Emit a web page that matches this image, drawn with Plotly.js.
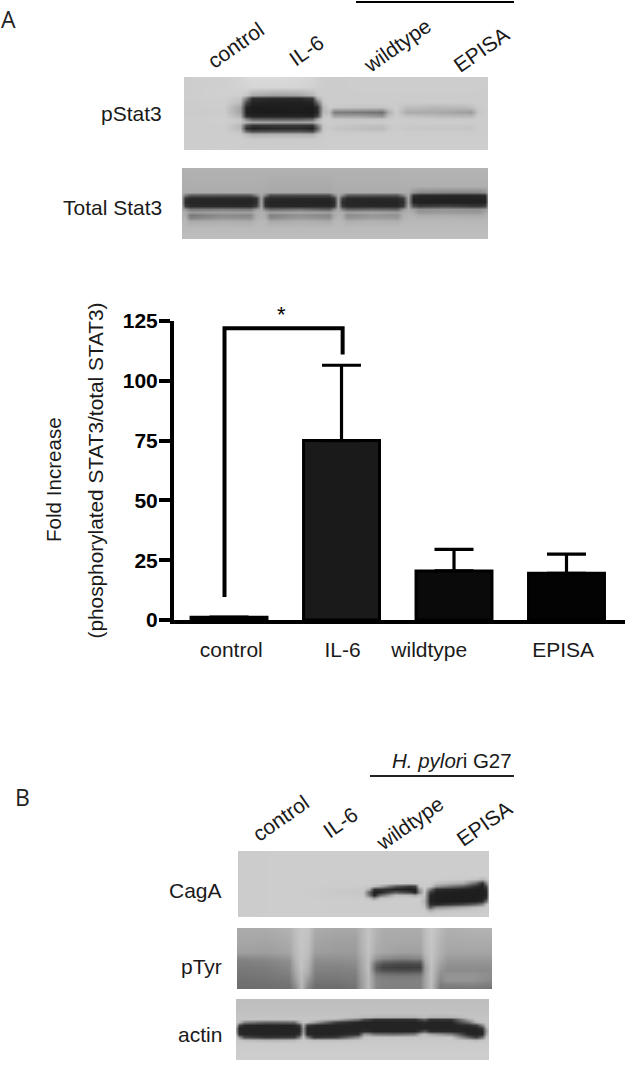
<!DOCTYPE html>
<html><head><meta charset="utf-8">
<script src="https://cdn.plot.ly/plotly-3.0.1.min.js"></script>
<style>html,body{margin:0;padding:0;background:#fff}#c{width:633px;height:1085px}</style>
</head><body><div id="c"></div>
<script>
// ---------- bar chart values ----------
const barNames = ['control','IL-6','wildtype','EPISA'];
const barSlots = [1,2,3,4];
const foldIncrease = [1.2,75,20.5,19.5];
const errorPlus = [0,31.5,9,8];
const barFill = ['#0a0a0a','#1a1a1a','#0a0a0a','#030303'];
const tickSlots = [1.02,2.01,2.78,3.97];
const yTicks = [0,25,50,75,100,125];
const bracketX = [0.96,0.96,2.01,2.01];
const bracketY = [9.6,122,122,111];

// ---------- blot densitometry (grey level) ----------
const pStatCols = [0,40,56,62,68,90,115,128,133,139,145,150,175,198,204,212,222,250,280,287,294,304];
const pStatRows = [0,10,18,21,25,30,35,39,42,45,48,51,54,57,62,73];
const pStatZ = [
[205,207,212,216,218,218,216,212,208,205,204,204,205,205,205,205,205,205,205,205,205,205],
[205,208,210,212,214,214,212,208,206,204,204,204,205,205,205,205,205,205,205,205,205,204],
[205,208,206,198,172,160,165,182,200,204,204,204,204,204,204,204,204,204,204,204,204,204],
[205,207,198,130,48,42,42,58,175,203,204,204,204,204,204,204,204,204,204,204,204,204],
[204,206,190,75,36,32,32,36,110,200,204,204,204,204,204,203,203,203,203,203,204,204],
[204,205,165,36,28,30,30,28,45,185,204,200,196,196,200,204,190,184,186,190,202,204],
[203,204,165,32,28,26,28,26,40,185,190,125,120,112,170,204,172,170,160,155,198,204],
[204,205,180,48,36,36,36,34,65,198,200,165,165,150,190,204,195,188,185,185,203,204],
[205,206,198,140,100,95,95,105,170,203,204,200,198,198,202,204,203,202,202,202,204,204],
[205,206,200,178,165,160,160,165,188,203,204,203,203,203,204,204,204,204,204,204,204,204],
[205,205,185,80,55,58,58,52,125,200,203,200,195,192,200,204,202,200,200,200,204,204],
[205,205,185,50,35,40,42,32,95,198,202,196,190,186,198,204,199,198,198,196,204,204],
[205,205,195,105,75,80,82,70,135,200,204,201,198,196,203,204,203,202,202,202,204,204],
[205,205,203,188,175,178,178,176,195,203,204,204,204,204,204,204,204,204,204,204,204,204],
[205,205,205,203,202,202,202,202,203,204,205,205,205,205,205,205,205,205,205,205,205,205],
[205,206,205,205,205,205,205,205,205,205,206,206,206,206,206,206,206,206,206,206,206,206]];

const totalCols = [0,3,8,40,68,74,79,83,88,118,147,152,156,160,165,190,215,221,226,231,237,265,296,303,306];
const totalRows = [0,18,24,27,30,34,38,41,44,47,50,53,60,71];
const totalZ = [
[176,177,178,178,178,178,178,178,178,178,178,178,178,178,178,178,178,180,180,180,180,180,180,180,180],
[174,174,174,174,174,174,174,172,170,170,170,174,174,174,174,174,174,175,175,175,175,175,175,175,175],
[172,172,172,172,172,172,172,170,168,168,168,172,172,172,172,172,172,172,172,150,140,135,135,145,172],
[165,120,90,85,85,130,170,130,75,75,75,130,170,140,90,85,85,130,170,55,42,40,40,48,160],
[150,55,42,40,40,50,165,55,42,40,40,58,165,65,42,40,42,60,165,36,34,34,34,36,150],
[150,44,38,36,36,46,165,42,36,36,34,44,165,46,38,36,36,46,160,36,32,32,32,36,150],
[160,60,44,42,42,65,168,52,40,40,40,55,168,58,42,40,40,60,170,80,60,70,55,70,165],
[168,150,120,125,120,155,172,125,105,115,95,140,172,130,100,105,100,150,172,160,145,150,145,155,172],
[175,172,155,160,160,175,175,172,160,165,160,172,175,172,160,165,160,172,176,170,150,155,150,165,176],
[178,172,120,140,135,172,178,170,130,145,135,170,178,172,140,150,145,175,180,178,172,172,170,176,180],
[180,178,135,150,145,176,180,176,140,155,145,176,180,176,150,160,155,178,182,182,178,180,178,180,182],
[182,182,170,175,172,182,184,182,170,175,172,182,184,182,175,178,176,184,184,184,184,184,184,184,184],
[186,186,186,186,186,186,186,186,186,186,186,186,186,186,186,186,186,187,187,187,187,187,187,187,187],
[190,190,190,190,190,190,190,190,190,190,190,190,190,190,190,190,190,192,192,192,192,192,192,192,192]];

const cagaCols = [0,60,125,131,136,142,157,172,177,181,186,192,198,225,238,244,248,251];
const cagaRows = [0,24,28,32,35,38,41,44,47,50,53,56,59,62,66];
const cagaZ = [
[204,205,205,205,205,205,205,205,205,205,205,205,205,205,205,205,205,205],
[204,205,205,205,205,205,205,205,205,205,205,205,205,205,205,205,205,205],
[204,205,204,204,204,204,204,204,204,204,204,204,204,202,196,180,195,204],
[204,205,204,204,204,204,204,200,202,204,204,203,190,170,100,42,130,204],
[204,205,203,200,190,170,90,55,70,195,204,198,150,90,45,32,70,203],
[204,205,200,170,50,50,35,30,35,150,204,120,45,35,32,30,45,200],
[204,205,198,100,30,35,90,60,35,130,200,60,32,30,30,30,35,195],
[204,205,200,120,35,110,190,185,170,190,195,38,30,30,30,30,35,198],
[204,205,203,190,150,195,203,203,203,204,190,35,30,30,30,32,50,200],
[204,205,204,204,204,204,204,204,204,204,180,35,30,30,32,45,110,203],
[204,205,204,204,204,204,204,204,204,204,190,45,40,70,100,130,190,204],
[204,205,204,204,204,204,204,204,204,204,198,90,140,175,190,198,204,204],
[204,205,204,204,204,204,204,204,204,204,203,170,190,198,200,204,204,204],
[204,205,205,205,205,205,205,205,205,205,205,200,202,204,204,205,205,205],
[205,205,205,205,205,205,205,205,205,205,205,205,205,205,205,205,205,205]];

const ptyrCols = [0,30,52,58,64,71,78,100,118,124,131,139,146,165,183,188,194,203,210,235,255];
const ptyrRows = [0,12,24,30,33,36,39,42,45,48,52,56,61];
const ptyrZ = [
[170,172,178,190,198,195,172,168,168,180,195,180,172,172,172,190,200,185,175,178,180],
[168,165,172,188,198,192,165,160,160,178,195,176,170,168,168,188,198,180,170,172,172],
[160,158,165,185,196,188,158,155,155,175,194,170,165,160,160,185,196,175,165,165,165],
[135,140,150,180,195,185,145,145,148,170,192,150,140,130,135,178,195,170,155,155,155],
[128,132,142,178,195,180,140,140,142,168,190,125,105,95,100,170,194,165,150,150,150],
[125,128,138,175,194,178,135,135,138,165,190,100,80,70,75,165,194,160,145,145,145],
[122,125,135,172,194,175,132,130,135,165,190,90,68,62,65,160,192,155,142,142,142],
[120,122,132,170,192,172,130,128,130,162,190,95,80,75,78,160,192,150,138,140,138],
[118,120,130,165,190,168,125,125,128,160,188,115,105,100,105,162,192,145,145,146,140],
[115,118,125,160,188,160,122,122,125,158,186,130,122,120,122,165,192,140,148,148,140],
[112,115,120,155,186,150,118,118,122,155,186,135,130,128,130,165,190,135,148,148,135],
[112,112,116,145,184,140,112,112,118,155,186,135,130,128,130,165,190,125,130,132,125],
[108,110,112,135,182,130,108,108,115,155,186,135,128,128,128,165,190,118,118,118,115]];

const actinCols = [0,3,8,30,58,63,67,71,78,100,122,128,132,138,158,178,184,188,194,215,232,240,246,250,253];
const actinRows = [0,14,18,20,23,26,29,32,35,38,41,44,50,61];
const actinZ = [
[190,190,190,190,190,190,190,190,190,190,190,190,190,190,190,190,190,190,190,190,190,190,190,190,190],
[193,193,193,193,193,193,193,193,193,193,193,193,193,193,193,193,193,193,193,193,193,193,193,193,193],
[196,196,196,196,196,196,196,196,196,196,190,185,185,180,178,178,185,188,178,180,194,196,196,196,196],
[196,196,196,196,196,196,196,196,196,180,120,75,70,50,48,50,75,95,50,55,170,196,196,196,196],
[196,185,130,100,110,170,196,190,160,60,38,36,36,36,36,36,38,42,36,36,110,180,194,196,196],
[190,70,40,36,38,60,170,60,40,36,36,36,36,36,36,36,36,36,36,36,45,60,130,194,196],
[150,38,36,36,36,40,150,38,36,36,36,36,36,36,36,36,36,36,36,36,36,38,55,170,198],
[150,38,36,36,36,38,150,38,36,36,36,45,42,36,36,36,60,85,45,40,36,36,40,150,198],
[175,45,38,36,36,50,170,42,36,36,50,150,150,120,110,125,175,190,170,130,40,36,42,165,200],
[198,150,75,50,60,120,195,120,50,60,140,196,198,196,196,196,198,198,198,196,100,60,110,195,200],
[200,198,190,180,185,195,200,198,190,190,198,200,200,200,200,200,200,200,200,200,195,185,195,200,200],
[202,202,202,202,202,202,202,202,202,202,202,202,202,202,202,202,202,202,202,202,202,202,202,202,202],
[204,204,204,204,204,204,204,204,204,204,204,204,204,204,204,204,204,204,204,204,204,204,204,204,204],
[206,206,206,206,206,206,206,206,206,206,206,206,206,206,206,206,206,206,206,206,206,206,206,206,206]];

// ---------- text ----------
const laneNames = ['control','IL-6','wildtype','EPISA'];
const blotNames = ['pStat3','Total Stat3','CagA','pTyr','actin'];
const W = 633, H = 1085;
const px = x => x / W, py = y => 1 - y / H;

const blots = [
 {x:pStatCols, y:pStatRows, z:pStatZ, box:[184,77,304,73]},
 {x:totalCols, y:totalRows, z:totalZ, box:[182,168,306,71]},
 {x:cagaCols,  y:cagaRows,  z:cagaZ,  box:[238,851,251,66]},
 {x:ptyrCols,  y:ptyrRows,  z:ptyrZ,  box:[237,928,255,61]},
 {x:actinCols, y:actinRows, z:actinZ, box:[236,999,253,61]}
];

const data = [
 {type:'bar', x:barSlots, y:foldIncrease, width:0.675,
  marker:{color:barFill, line:{color:'#000', width:3}},
  error_y:{type:'data', symmetric:false, array:errorPlus, color:'#000', thickness:3.2, width:19.5},
  hoverinfo:'x+y'},
 {type:'scatter', mode:'lines', x:bracketX, y:bracketY, line:{color:'#000', width:4}, hoverinfo:'skip', cliponaxis:false}
];
const layout = {
 width:W, height:H, margin:{l:0,r:0,t:0,b:0}, paper_bgcolor:'#fff', plot_bgcolor:'#fff',
 showlegend:false, font:{family:'"Liberation Sans",Arial,sans-serif', color:'#1a1a1a', size:21},
 xaxis:{domain:[px(174),px(625)], range:[0.511,4.52], tickmode:'array', tickvals:tickSlots, ticktext:barNames,
   ticks:'', ticklabelstandoff:8, showgrid:false, zeroline:false, showline:true, linecolor:'#000', linewidth:4,
   tickfont:{size:21,color:'#1a1a1a'}, anchor:'y'},
 yaxis:{domain:[py(620),py(321)], range:[0,125], tickmode:'array', tickvals:yTicks, ticks:'outside', ticklen:11,
   tickwidth:4, tickcolor:'#000', showgrid:false, zeroline:false, showline:true, linecolor:'#000', linewidth:4,
   ticklabelstandoff:-3,
   tickfont:{size:21,color:'#000',family:'"Liberation Sans",Arial,sans-serif',weight:'bold'}, anchor:'x',
   title:{text:'(phosphorylated STAT3/total STAT3)', standoff:14, font:{size:20.8,color:'#1a1a1a'}}},
 shapes:[
  {type:'line',xref:'paper',yref:'paper',x0:px(356),x1:px(514),y0:py(2),y1:py(2),line:{color:'#000',width:2}},
  {type:'line',xref:'paper',yref:'paper',x0:px(370),x1:px(514),y0:py(776),y1:py(776),line:{color:'#222',width:2}}
 ],
 annotations:[]
};

blots.forEach((b,i) => {
 const n = i + 2, [l,t,w,h] = b.box;
 data.push({type:'heatmap', x:b.x, y:b.y, z:b.z, xaxis:'x'+n, yaxis:'y'+n, zmin:0, zmax:255, zsmooth:'best',
   colorscale:[[0,'#000'],[1,'#fff']], showscale:false, hoverinfo:'skip'});
 layout['xaxis'+n] = {domain:[px(l),px(l+w)], range:[0,w], visible:false, anchor:'y'+n};
 layout['yaxis'+n] = {domain:[py(t+h),py(t)], range:[h,0], visible:false, anchor:'x'+n};
});

function note(text,x,y,opt){
 layout.annotations.push(Object.assign({text,xref:'paper',yref:'paper',x:px(x),y:py(y),showarrow:false,
   xanchor:'center',yanchor:'middle',font:{size:21,color:'#1a1a1a'}},opt||{}));
}
const laneA = [[235,45],[306,50],[397,46],[481,49]];
const laneB = [[280,818],[340,822],[409,823],[484,823]];
laneNames.forEach((t,i)=>{
 note(t,laneA[i][0],laneA[i][1],{textangle:-35});
 note(t,laneB[i][0],laneB[i][1],{textangle:-35});
});
const blotLabelPos = [[164,114],[164,207],[224,890],[224,966],[224,1034]];
blotNames.forEach((t,i)=>note(t,blotLabelPos[i][0],blotLabelPos[i][1],{xanchor:'right'}));
note('A',8,19,{font:{size:23,color:'#222',family:'"Open Sans",sans-serif'}});
note('B',22,797,{font:{size:23,color:'#222',family:'"Open Sans",sans-serif'}});
note('<i>H. pylor</i>i G27',452,760,{font:{size:20.5,color:'#1a1a1a'}});
note('Fold Increase',53,480,{textangle:-90,font:{size:20.6,color:'#1a1a1a'}});
note('*',281,315,{font:{size:22,color:'#000'}});

Plotly.newPlot('c',data,layout,{displayModeBar:false,staticPlot:true});
</script></body></html>
